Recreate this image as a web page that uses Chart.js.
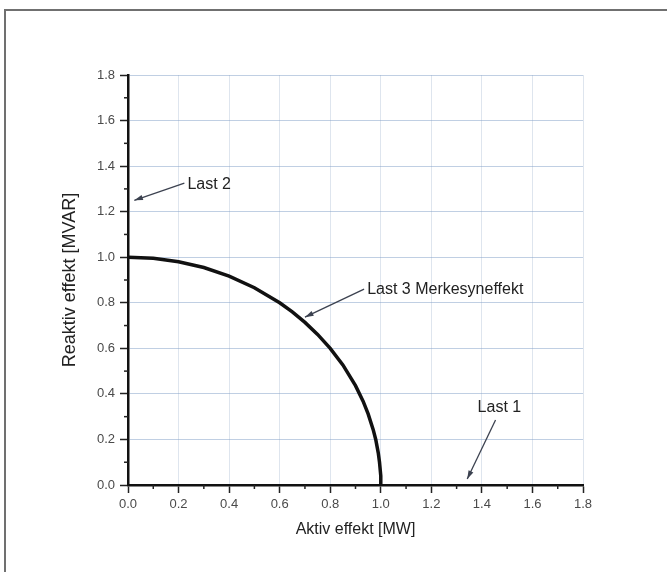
<!DOCTYPE html>
<html>
<head>
    <script src="https://cdn.jsdelivr.net/npm/chart.js"></script>
    <style>
        body { margin: 0; background: #fff; }
        #wrap { width: 667px; height: 572px; }
    </style>
</head>
<body>
    <div id="wrap"><canvas id="chart"></canvas></div>
    <script>
        // Merkesyneffekt curve (Last 3)
        const activePower = [0, 0.1, 0.2, 0.3, 0.4, 0.5, 0.6, 0.65, 0.7, 0.75, 0.8, 0.85, 0.9, 0.93, 0.95, 0.97, 0.98, 0.99, 0.995, 1.0, 1.0];
        const reactivePower = [1.0, 0.995, 0.98, 0.955, 0.917, 0.866, 0.8, 0.76, 0.714, 0.661, 0.6, 0.527, 0.436, 0.368, 0.312, 0.243, 0.2, 0.141, 0.1, 0.04, 0];
        const tickValues = [0, 0.2, 0.4, 0.6, 0.8, 1.0, 1.2, 1.4, 1.6, 1.8];
        const minorTicks = [0.1, 0.3, 0.5, 0.7, 0.9, 1.1, 1.3, 1.5, 1.7];
        const noteText = ['Last 1', 'Last 2', 'Last 3 Merkesyneffekt'];
        const noteTip = [[1.342, 0.026], [0.025, 1.25], [0.70, 0.737]];
        const noteFrom = [[1.454, 0.285], [0.223, 1.325], [0.934, 0.86]];
        const noteLabelAt = [[1.383, 0.338], [0.235, 1.321], [0.946, 0.856]];

        const FONT = "'Liberation Sans', Arial, sans-serif";

        const framePlugin = {
            id: 'frame',
            beforeDraw(chart) {
                const c = chart.ctx;
                c.save();
                c.fillStyle = '#fff';
                c.fillRect(0, 0, chart.width, chart.height);
                c.strokeStyle = '#707070';
                c.lineWidth = 2;
                c.beginPath();
                c.moveTo(5, chart.height);
                c.lineTo(5, 10);
                c.lineTo(chart.width, 10);
                c.stroke();
                c.restore();
            }
        };

        const minorTickPlugin = {
            id: 'minorTicks',
            afterDraw(chart) {
                const c = chart.ctx;
                const xs = chart.scales.x, ys = chart.scales.y;
                const area = chart.chartArea;
                c.save();
                c.strokeStyle = '#222';
                c.lineWidth = 1.5;
                minorTicks.forEach(v => {
                    const px = xs.getPixelForValue(v);
                    c.beginPath(); c.moveTo(px, area.bottom); c.lineTo(px, area.bottom + 4); c.stroke();
                    const py = ys.getPixelForValue(v);
                    c.beginPath(); c.moveTo(area.left, py); c.lineTo(area.left - 4, py); c.stroke();
                });
                c.restore();
            }
        };

        const notesPlugin = {
            id: 'notes',
            afterDraw(chart) {
                const c = chart.ctx;
                const xs = chart.scales.x, ys = chart.scales.y;
                c.save();
                noteText.forEach((t, i) => {
                    const x0 = xs.getPixelForValue(noteFrom[i][0]), y0 = ys.getPixelForValue(noteFrom[i][1]);
                    const x1 = xs.getPixelForValue(noteTip[i][0]), y1 = ys.getPixelForValue(noteTip[i][1]);
                    c.strokeStyle = '#3c4250';
                    c.fillStyle = '#3c4250';
                    c.lineWidth = 1.3;
                    c.beginPath(); c.moveTo(x0, y0); c.lineTo(x1, y1); c.stroke();
                    const a = Math.atan2(y1 - y0, x1 - x0);
                    c.beginPath();
                    c.moveTo(x1, y1);
                    c.lineTo(x1 - 9 * Math.cos(a - 0.3), y1 - 9 * Math.sin(a - 0.3));
                    c.lineTo(x1 - 9 * Math.cos(a + 0.3), y1 - 9 * Math.sin(a + 0.3));
                    c.closePath(); c.fill();
                    c.fillStyle = '#222';
                    c.font = '16px ' + FONT;
                    c.textAlign = 'left';
                    c.textBaseline = 'middle';
                    c.fillText(t, xs.getPixelForValue(noteLabelAt[i][0]), ys.getPixelForValue(noteLabelAt[i][1]));
                });
                c.restore();
            }
        };

        const gridColor = (ctx, col) => (ctx.tick && ctx.tick.value === 0) ? 'rgba(0,0,0,0)' : col;

        new Chart(document.getElementById('chart'), {
            type: 'scatter',
            data: {
                datasets: [{
                    label: 'Last 3 Merkesyneffekt',
                    data: activePower.map((p, i) => ({ x: p, y: reactivePower[i] })),
                    showLine: true,
                    borderColor: '#111',
                    borderWidth: 3.5,
                    pointRadius: 0,
                    tension: 0
                }]
            },
            options: {
                responsive: true,
                maintainAspectRatio: false,
                animation: false,
                layout: { padding: { left: 0, top: 75, right: 84, bottom: 0 } },
                plugins: { legend: { display: false }, tooltip: { enabled: false } },
                scales: {
                    x: {
                        type: 'linear',
                        min: 0, max: 1.8,
                        afterBuildTicks: s => { s.ticks = tickValues.map(v => ({ value: v })); },
                        afterFit: s => { s.height = 87; },
                        ticks: {
                            callback: v => v.toFixed(1),
                            color: '#4a4a4a',
                            font: { family: FONT, size: 13 },
                            padding: 4,
                            maxRotation: 0
                        },
                        grid: {
                            color: ctx => gridColor(ctx, 'rgba(160,180,205,0.35)'),
                            tickColor: '#222',
                            tickLength: 8,
                            tickWidth: 1.5
                        },
                        border: { display: true, color: '#111', width: 2.5 },
                        title: {
                            display: true,
                            text: 'Aktiv effekt [MW]',
                            color: '#222',
                            font: { family: FONT, size: 16 },
                            padding: { top: 0, bottom: 33 }
                        }
                    },
                    y: {
                        type: 'linear',
                        min: 0, max: 1.8,
                        afterBuildTicks: s => { s.ticks = tickValues.map(v => ({ value: v })); },
                        afterFit: s => { s.width = 128; },
                        ticks: {
                            callback: v => v.toFixed(1),
                            color: '#4a4a4a',
                            font: { family: FONT, size: 13 },
                            padding: 5
                        },
                        grid: {
                            color: ctx => gridColor(ctx, 'rgba(130,160,200,0.5)'),
                            tickColor: '#222',
                            tickLength: 8,
                            tickWidth: 1.5
                        },
                        border: { display: true, color: '#111', width: 2.5 },
                        title: {
                            display: true,
                            text: 'Reaktiv effekt [MVAR]',
                            color: '#222',
                            font: { family: FONT, size: 18 },
                            padding: { top: 59, bottom: 0 }
                        }
                    }
                }
            },
            plugins: [framePlugin, minorTickPlugin, notesPlugin]
        });
    </script>
</body>
</html>
